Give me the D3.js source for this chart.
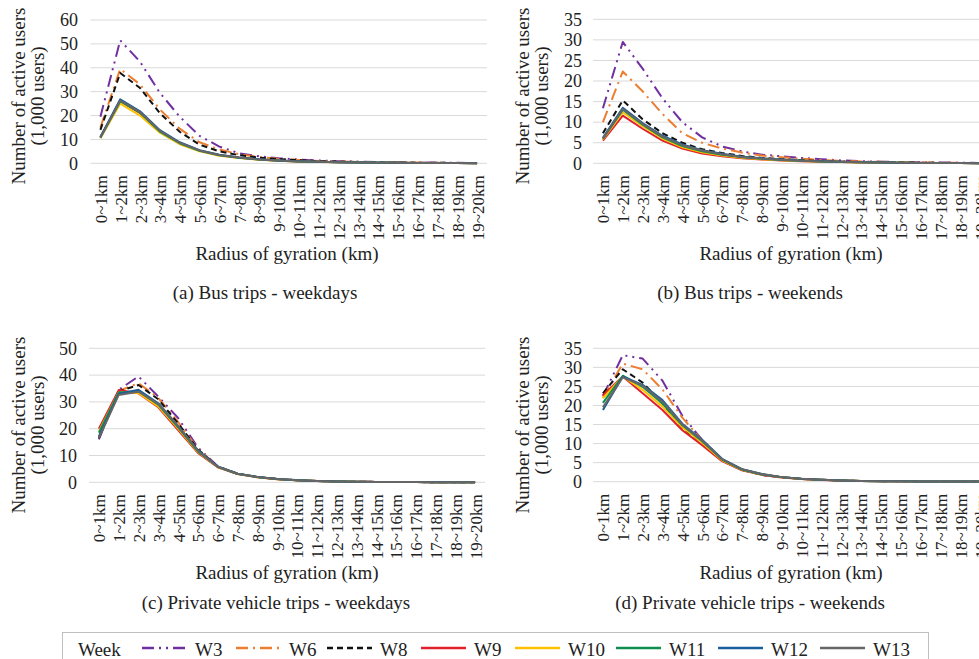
<!DOCTYPE html>
<html>
<head>
<meta charset="utf-8">
<script src="https://cdn.jsdelivr.net/npm/d3@7"></script>
<style>
    body { margin: 0; background: #fff; }
    svg { display: block; font-family: "Liberation Serif", "Times New Roman", serif; }
    .grid line { stroke: #d9d9d9; stroke-width: 1; }
    .tick text { fill: #222; }
    .lbl { fill: #222; }
</style>
</head>
<body>
<div id="chart"></div>
<script>

var categories = ["0~1km", "1~2km", "2~3km", "3~4km", "4~5km", "5~6km", "6~7km", "7~8km", "8~9km", "9~10km",
    "10~11km", "11~12km", "12~13km", "13~14km", "14~15km", "15~16km", "16~17km", "17~18km", "18~19km", "19~20km"];

var weeks = ["W3", "W6", "W8", "W9", "W10", "W11", "W12", "W13"];
var weekColors = ["#7030a0", "#ed7d31", "#111111", "#e0202a", "#ffc000", "#0e8f4f", "#1a5e9c", "#666666"];
var weekDash = ["12,5,2,5,2,5", "12,5,2,5", "6,4", null, null, null, null, null];

// thousand users, one row per week (same order as weeks)
var busWeekdays = [
    [19.5, 51.5, 42.5, 29.5, 19.5, 11.5, 7, 4.2, 2.9, 2.1, 1.6, 1.2, 0.9, 0.7, 0.55, 0.45, 0.35, 0.25, 0.2, 0.15],
    [15, 39.5, 33, 22.5, 14.5, 8.8, 5.8, 3.8, 2.6, 1.9, 1.4, 1.0, 0.8, 0.6, 0.45, 0.35, 0.3, 0.2, 0.15, 0.1],
    [14, 37.8, 31.5, 21, 13.2, 7.8, 5, 3.4, 2.4, 1.7, 1.3, 0.9, 0.7, 0.55, 0.4, 0.3, 0.25, 0.2, 0.15, 0.1],
    [11, 26, 21, 13.5, 8.5, 5.3, 3.4, 2.3, 1.6, 1.1, 0.8, 0.6, 0.45, 0.35, 0.25, 0.2, 0.15, 0.1, 0.08, 0.05],
    [10.5, 25, 20, 12.8, 8, 5, 3.2, 2.2, 1.5, 1.05, 0.75, 0.55, 0.4, 0.3, 0.25, 0.2, 0.15, 0.1, 0.08, 0.05],
    [10.8, 26, 21.2, 13.3, 8.4, 5.2, 3.4, 2.3, 1.6, 1.1, 0.8, 0.6, 0.45, 0.35, 0.25, 0.2, 0.15, 0.1, 0.08, 0.05],
    [11, 26.8, 21.8, 13.9, 8.8, 5.5, 3.6, 2.4, 1.7, 1.2, 0.85, 0.6, 0.45, 0.35, 0.3, 0.2, 0.15, 0.1, 0.08, 0.05],
    [10.7, 26.3, 21.4, 13.6, 8.6, 5.4, 3.5, 2.4, 1.6, 1.15, 0.8, 0.6, 0.45, 0.35, 0.25, 0.2, 0.15, 0.1, 0.08, 0.05]
];

var busWeekends = [
    [13.4, 29.5, 23, 15.8, 10, 6.3, 4.1, 2.9, 2.1, 1.7, 1.3, 1.0, 0.7, 0.5, 0.4, 0.3, 0.25, 0.2, 0.15, 0.1],
    [10, 22.3, 17.5, 12, 7.3, 5, 3.6, 2.6, 1.9, 1.5, 1.1, 0.8, 0.6, 0.45, 0.35, 0.3, 0.2, 0.15, 0.1, 0.1],
    [7.3, 15.3, 10.7, 7.3, 5, 3.4, 2.5, 1.8, 1.3, 1.0, 0.75, 0.55, 0.4, 0.3, 0.25, 0.2, 0.15, 0.1, 0.08, 0.05],
    [5.5, 11.6, 8.4, 5.5, 3.6, 2.4, 1.7, 1.2, 0.9, 0.7, 0.5, 0.4, 0.3, 0.2, 0.15, 0.1, 0.1, 0.08, 0.05, 0.04],
    [5.8, 12.4, 9, 6, 3.9, 2.7, 1.9, 1.35, 1.0, 0.75, 0.55, 0.4, 0.3, 0.2, 0.15, 0.12, 0.1, 0.08, 0.05, 0.04],
    [6, 13, 9.4, 6.3, 4.2, 2.9, 2.1, 1.5, 1.1, 0.8, 0.6, 0.45, 0.3, 0.25, 0.2, 0.15, 0.1, 0.08, 0.05, 0.04],
    [6.2, 13.5, 9.8, 6.7, 4.6, 3.2, 2.3, 1.6, 1.2, 0.9, 0.65, 0.5, 0.35, 0.25, 0.2, 0.15, 0.1, 0.08, 0.05, 0.04],
    [6, 13.2, 9.6, 6.5, 4.4, 3.1, 2.2, 1.55, 1.15, 0.85, 0.6, 0.45, 0.35, 0.25, 0.2, 0.15, 0.1, 0.08, 0.05, 0.04]
];

var carWeekdays = [
    [16, 34.5, 39.5, 32, 24, 13, 6, 3.2, 2.0, 1.2, 0.8, 0.5, 0.3, 0.2, 0.15, 0.1, 0.08, 0.05, 0.04, 0.03],
    [17, 34, 37, 31.5, 22.5, 12.5, 5.9, 3.2, 2.0, 1.2, 0.8, 0.5, 0.3, 0.2, 0.15, 0.1, 0.08, 0.05, 0.04, 0.03],
    [16.5, 34, 36.3, 31, 22, 12.3, 5.8, 3.2, 2.0, 1.2, 0.8, 0.5, 0.3, 0.2, 0.15, 0.1, 0.08, 0.05, 0.04, 0.03],
    [20, 34.4, 33.2, 28, 19.5, 11, 5.6, 3.1, 1.9, 1.1, 0.75, 0.5, 0.3, 0.2, 0.15, 0.1, 0.08, 0.05, 0.04, 0.03],
    [19, 33.5, 33.3, 28.3, 20, 11.3, 5.7, 3.1, 1.9, 1.1, 0.75, 0.5, 0.3, 0.2, 0.15, 0.1, 0.08, 0.05, 0.04, 0.03],
    [18.5, 33.5, 34, 29, 20.5, 11.5, 5.8, 3.2, 2.0, 1.2, 0.8, 0.5, 0.3, 0.2, 0.15, 0.1, 0.08, 0.05, 0.04, 0.03],
    [17, 33, 34.5, 29.5, 21, 12, 5.9, 3.2, 2.0, 1.2, 0.8, 0.5, 0.3, 0.2, 0.15, 0.1, 0.08, 0.05, 0.04, 0.03],
    [16.5, 32.6, 33.8, 29.3, 21, 11.8, 5.8, 3.2, 2.0, 1.2, 0.8, 0.5, 0.3, 0.2, 0.15, 0.1, 0.08, 0.05, 0.04, 0.03]
];

var carWeekends = [
    [22.5, 33.2, 32.3, 26.5, 17.3, 11, 5.8, 3.2, 1.9, 1.2, 0.75, 0.5, 0.3, 0.2, 0.15, 0.1, 0.08, 0.05, 0.04, 0.03],
    [22, 31, 29.5, 24.2, 16.8, 10.8, 5.8, 3.2, 1.9, 1.2, 0.75, 0.5, 0.3, 0.2, 0.15, 0.1, 0.08, 0.05, 0.04, 0.03],
    [23.2, 29.5, 26, 20.5, 14, 10.3, 5.6, 3.1, 1.8, 1.1, 0.7, 0.5, 0.3, 0.2, 0.15, 0.1, 0.08, 0.05, 0.04, 0.03],
    [22.7, 27.6, 23.2, 18.8, 13.5, 9.6, 5.4, 3.0, 1.8, 1.1, 0.7, 0.45, 0.3, 0.2, 0.15, 0.1, 0.08, 0.05, 0.04, 0.03],
    [21.9, 27.6, 24.1, 19.7, 14.3, 10.2, 5.6, 3.1, 1.9, 1.15, 0.7, 0.5, 0.3, 0.2, 0.15, 0.1, 0.08, 0.05, 0.04, 0.03],
    [20.7, 27.8, 24.9, 20.5, 14.8, 10.6, 5.8, 3.2, 1.9, 1.2, 0.75, 0.5, 0.3, 0.2, 0.15, 0.1, 0.08, 0.05, 0.04, 0.03],
    [18.8, 27.6, 25.4, 21.4, 15.2, 11, 6, 3.3, 2.0, 1.2, 0.75, 0.5, 0.3, 0.2, 0.15, 0.1, 0.08, 0.05, 0.04, 0.03],
    [19.5, 27.4, 25.2, 21, 15, 10.8, 5.9, 3.3, 2.0, 1.2, 0.75, 0.5, 0.3, 0.2, 0.15, 0.1, 0.08, 0.05, 0.04, 0.03]
];

var yMaxes = [60, 35, 50, 35];
var yStepes = [10, 5, 10, 5];
var captions = ["(a) Bus trips - weekdays", "(b) Bus trips - weekends",
    "(c) Private vehicle trips - weekdays", "(d) Private vehicle trips - weekends"];

const W = 979, H = 659;

// panel boxes (plot area)
var panels = [
    {data: busWeekdays, left: 90.5, right: 487, top: 20, bottom: 163.3, titleY: 96, xTitleY: 260, capY: 299, ylab: 78, capX: 265},
    {data: busWeekends, left: 593, right: 990, top: 19.3, bottom: 163.3, titleY: 96, xTitleY: 260, capY: 299, ylab: 582, capX: 750},
    {data: carWeekdays, left: 89, right: 485, top: 348.3, bottom: 482.3, titleY: 425, xTitleY: 579, capY: 609, ylab: 77, capX: 276},
    {data: carWeekends, left: 593, right: 990, top: 348.3, bottom: 481.7, titleY: 425, xTitleY: 579, capY: 609, ylab: 582, capX: 750}
];

var svg = d3.select("#chart").append("svg")
    .attr("width", W)
    .attr("height", H);

panels.forEach(function(p, pi){

    var x = d3.scalePoint()
        .domain(categories)
        .range([p.left, p.right])
        .padding(0.5);

    var y = d3.scaleLinear()
        .domain([0, yMaxes[pi]])
        .range([p.bottom, p.top]);

    var yTicks = d3.range(0, yMaxes[pi] + 0.001, yStepes[pi]);

    var g = svg.append("g");

    /* сітка */
    g.append("g")
        .attr("class", "grid")
        .selectAll("line")
        .data(yTicks)
        .enter()
        .append("line")
        .attr("x1", p.left)
        .attr("x2", p.right)
        .attr("y1", function(d){ return y(d) })
        .attr("y2", function(d){ return y(d) });

    /* осі */
    var yAxis = g.append("g")
        .attr("transform", "translate(" + p.ylab + ",0)")
        .call(d3.axisLeft(y).tickValues(yTicks).tickSize(0).tickPadding(0).tickFormat(d3.format("d")));
    yAxis.select(".domain").remove();
    yAxis.selectAll("text")
        .style("font-size", "18px")
        .style("font-family", "Liberation Serif, serif");

    var xAxis = g.append("g")
        .attr("transform", "translate(0," + p.bottom + ")")
        .call(d3.axisBottom(x).tickSize(0));
    xAxis.select(".domain").remove();
    xAxis.selectAll("text")
        .attr("transform", "rotate(-90)")
        .attr("x", -12)
        .attr("y", 0)
        .attr("dy", "0.35em")
        .style("text-anchor", "end")
        .style("font-size", "17px")
        .style("font-family", "Liberation Serif, serif");

    /* лінії */
    var line = d3.line()
        .x(function(d, i){ return x(categories[i]) })
        .y(function(d){ return y(d) });

    g.selectAll(".series")
        .data(p.data)
        .enter()
        .append("path")
        .attr("class", "series")
        .attr("d", function(d){ return line(d) })
        .attr("fill", "none")
        .attr("stroke", function(d, i){ return weekColors[i] })
        .attr("stroke-width", 2)
        .attr("stroke-linejoin", "round")
        .attr("stroke-dasharray", function(d, i){ return weekDash[i] });

    /* підписи */
    var tx = pi % 2 === 0 ? 18 : 522;
    g.append("text")
        .attr("class", "lbl")
        .attr("transform", "translate(" + tx + "," + p.titleY + ") rotate(-90)")
        .attr("text-anchor", "middle")
        .attr("dy", "0.35em")
        .style("font-size", "19px")
        .text("Number of active users");
    g.append("text")
        .attr("class", "lbl")
        .attr("transform", "translate(" + (tx + 19) + "," + p.titleY + ") rotate(-90)")
        .attr("text-anchor", "middle")
        .attr("dy", "0.35em")
        .style("font-size", "19px")
        .text("(1,000 users)");

    g.append("text")
        .attr("class", "lbl")
        .attr("x", pi % 2 === 0 ? 287 : 791)
        .attr("y", p.xTitleY)
        .attr("text-anchor", "middle")
        .style("font-size", "19px")
        .text("Radius of gyration (km)");

    g.append("text")
        .attr("class", "lbl")
        .attr("x", p.capX)
        .attr("y", p.capY)
        .attr("text-anchor", "middle")
        .style("font-size", "19px")
        .text(captions[pi]);
});

/* легенда */
var legend = svg.append("g");
legend.append("rect")
    .attr("x", 62.5)
    .attr("y", 632.5)
    .attr("width", 866)
    .attr("height", 60)
    .attr("fill", "none")
    .attr("stroke", "#bfbfbf");

legend.append("text")
    .attr("class", "lbl")
    .attr("x", 78)
    .attr("y", 656)
    .style("font-size", "19px")
    .text("Week");

var legendX = [142, 236, 327, 421, 515, 616, 718, 820];

var items = legend.selectAll(".item")
    .data(weeks)
    .enter()
    .append("g")
    .attr("class", "item")
    .attr("transform", function(d, i){ return "translate(" + legendX[i] + ",0)" });

items.append("line")
    .attr("x1", 0)
    .attr("x2", 45)
    .attr("y1", 648)
    .attr("y2", 648)
    .attr("stroke", function(d, i){ return weekColors[i] })
    .attr("stroke-width", 2.5)
    .attr("stroke-dasharray", function(d, i){ return weekDash[i] });

items.append("text")
    .attr("class", "lbl")
    .attr("x", 53)
    .attr("y", 656)
    .style("font-size", "19px")
    .text(function(d){ return d });

</script>
</body>
</html>
